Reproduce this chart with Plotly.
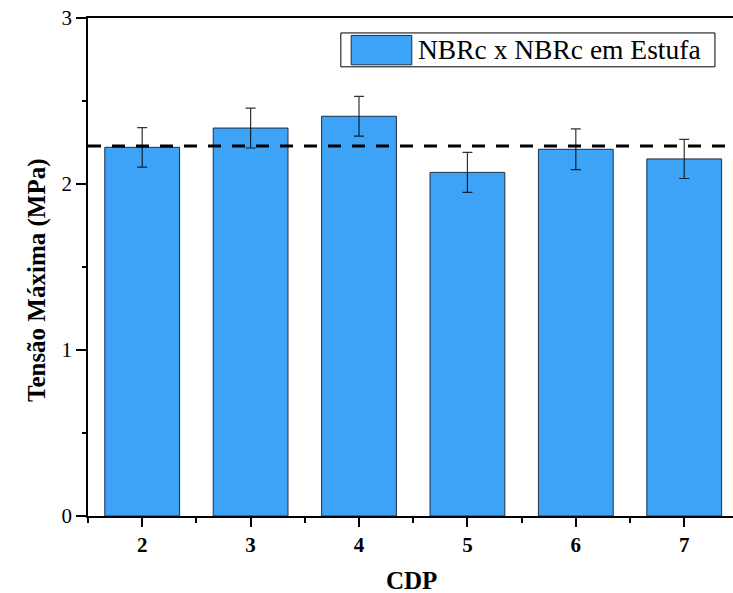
import plotly.graph_objects as go

cdp = [2, 3, 4, 5, 6, 7]
tensao = [2.221, 2.337, 2.408, 2.070, 2.209, 2.151]
erro = [0.119, 0.120, 0.120, 0.121, 0.123, 0.118]
ref_line = 2.229
legend_label = "NBRc x NBRc em Estufa"
x_title = "CDP"
y_title = "Tensão Máxima (MPa)"

FONT = "Liberation Serif"
BAR = "#3DA3F7"
EDGE = "#1C2E44"

fig = go.Figure()
fig.add_trace(go.Bar(
    x=cdp, y=tensao, width=0.69,
    marker=dict(color=BAR, line=dict(color=EDGE, width=1)),
    error_y=dict(type="data", array=erro, color="rgba(0,0,0,0.8)", thickness=1.2, width=5),
    showlegend=False,
))

# reference dashed line
fig.add_shape(type="line", xref="paper", yref="y", x0=0, x1=1, y0=ref_line, y1=ref_line,
              line=dict(color="black", width=3, dash="13px,11px"))

# custom legend box
fig.add_shape(type="rect", xref="paper", yref="paper", x0=0.392, x1=0.972, y0=0.902, y1=0.97,
              line=dict(color="black", width=1), fillcolor="white", layer="above")
fig.add_shape(type="rect", xref="paper", yref="paper", x0=0.408, x1=0.502, y0=0.906, y1=0.965,
              line=dict(color=EDGE, width=1), fillcolor=BAR, layer="above")
fig.add_annotation(xref="paper", yref="paper", x=0.508, y=0.936, xanchor="left", yanchor="middle",
                   text=legend_label, showarrow=False,
                   font=dict(family=FONT, size=27.5, color="black"))

# axis titles
fig.add_annotation(xref="paper", yref="paper", x=0.502, y=-0.1305, xanchor="center", yanchor="middle",
                   text="<b>" + x_title + "</b>", showarrow=False,
                   font=dict(family=FONT, size=25, color="black"))
fig.add_annotation(xref="paper", yref="paper", x=-0.079, y=0.474, xanchor="center", yanchor="middle",
                   text="<b>" + y_title + "</b>", showarrow=False, textangle=-90,
                   font=dict(family=FONT, size=25, color="black"))

fig.update_layout(
    width=733, height=593,
    margin=dict(l=88, r=0, t=18, b=77),
    plot_bgcolor="white", paper_bgcolor="white",
    font=dict(family=FONT, color="black"),
    bargap=0.3,
    xaxis=dict(
        range=[1.5, 7.45], tickmode="linear", tick0=2, dtick=1,
        showline=True, linecolor="black", linewidth=1.5, mirror=True,
        ticks="outside", ticklen=9, tickwidth=1.5, tickcolor="black",
        minor=dict(ticks="outside", ticklen=5, tickwidth=1.5, tickcolor="black", dtick=0.5, tick0=1.5),
        showgrid=False, zeroline=False,
        tickfont=dict(family=FONT, size=21, color="black", weight="bold"),
    ),
    yaxis=dict(
        range=[0, 3], tickmode="linear", tick0=0, dtick=1,
        showline=True, linecolor="black", linewidth=1.5, mirror=False,
        ticks="outside", ticklen=10, tickwidth=1.5, tickcolor="black",
        minor=dict(ticks="outside", ticklen=4, tickwidth=1.5, tickcolor="black", dtick=0.5),
        showgrid=False, zeroline=False,
        tickfont=dict(family=FONT, size=21, color="black"),
    ),
)

fig.write_html("out.html", config={"displayModeBar": False},
               post_script="document.body.style.margin='0';document.body.style.overflow='hidden';")
